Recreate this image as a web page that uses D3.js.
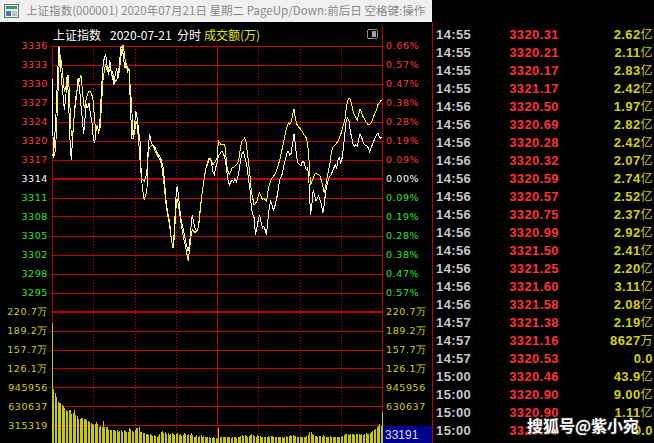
<!DOCTYPE html>
<html><head><meta charset="utf-8">
<script src="https://cdn.jsdelivr.net/npm/d3@7/dist/d3.min.js"></script>
<style>html,body{margin:0;padding:0;background:#000;overflow:hidden}</style>
</head><body><svg id="c" width="654" height="443"></svg>
<script>
// ---------- data ----------
const titleText = "上证指数(000001) 2020年07月21日 星期二 PageUp/Down:前后日 空格键:操作";
const prevClose = 3314.15;
const priceLabels = ["3336","3333","3330","3327","3324","3320","3317","3314","3311","3308","3305","3302","3298","3295"];
const pctLabels = ["0.66%","0.57%","0.47%","0.38%","0.28%","0.19%","0.09%","0.00%","0.09%","0.19%","0.28%","0.38%","0.47%","0.57%"];
const volLabels = ["220.7万","189.2万","157.7万","126.1万","945956","630637","315319"];
const volStep = 315319; // 万 per grid division

// index line (white), one value per minute 09:30..15:00
const indexLine = [
3330.7,3317.6,3321.0,3325.2,3330.7,3336.0,3333.4,3330.1,3327.9,3325.5,
3327.4,3331.2,3327.4,3320.8,3317.2,3320.8,3324.1,3326.3,3327.9,3330.7,
3329.0,3326.3,3324.1,3321.4,3324.1,3326.3,3325.8,3326.6,3324.6,3323.6,
3320.8,3320.0,3321.9,3323.0,3321.4,3324.1,3329.0,3332.3,3334.0,3334.5,
3332.9,3331.2,3333.7,3331.8,3330.7,3329.6,3331.2,3332.3,3330.7,3332.9,
3335.6,3336.0,3334.0,3332.3,3332.9,3331.8,3332.3,3326.3,3320.8,3320.8,
3322.9,3325.2,3324.1,3322.0,3320.3,3314.2,3313.9,3313.7,3314.2,3315.3,
3319.2,3321.4,3320.3,3319.7,3319.5,3319.2,3318.7,3318.1,3317.9,3317.5,
3316.7,3315.9,3313.1,3310.4,3308.6,3307.7,3306.0,3303.8,3302.7,3305.7,
3310.6,3312.9,3311.4,3309.0,3307.2,3306.3,3305.2,3304.0,3303.1,3302.2,
3303.1,3306.0,3308.2,3307.0,3306.0,3305.5,3305.7,3307.3,3309.6,3311.4,
3313.1,3314.6,3315.9,3316.4,3317.2,3317.5,3316.7,3315.3,3314.8,3315.9,
3316.7,
3317.9,3318.1,3318.5,3318.6,3318.0,3317.2,3315.6,3313.9,3313.1,3313.6,
3313.9,3313.6,3314.1,3313.6,3314.2,3315.3,3316.9,3318.2,3318.6,3318.0,
3316.9,3315.9,3313.9,3312.3,3309.3,3308.2,3307.7,3304.9,3306.0,3307.3,
3308.2,3307.0,3306.0,3306.3,3305.7,3304.9,3307.3,3309.3,3310.4,3309.8,
3309.0,3309.5,3310.6,3311.5,3313.1,3314.2,3314.5,3315.6,3316.7,3317.5,
3318.5,3318.6,3318.0,3318.3,3320.0,3321.4,3319.7,3317.5,3316.7,3316.4,
3316.2,3316.9,3317.0,3316.2,3315.6,3315.9,3313.1,3308.2,3309.8,3312.3,
3311.3,3310.4,3310.9,3311.3,3310.6,3309.8,3308.5,3309.8,3312.0,3313.1,
3313.9,3314.5,3314.8,3315.3,3315.9,3316.4,3315.9,3317.2,3317.5,3316.7,
3317.5,3319.2,3321.6,3323.8,3324.1,3323.6,3321.9,3320.8,3319.7,3319.5,
3319.7,3319.5,3320.5,3321.4,3321.1,3320.3,3319.8,3319.5,3319.5,3319.2,
3318.6,3319.2,3319.7,3320.3,3320.8,3321.4,3321.6,3321.0,3320.8,3320.9
];
// leading line (yellow)
const leadLine = [
3317.9,3318.3,3317.9,3320.8,3326.3,3332.3,3334.5,3332.9,3330.7,3328.5,
3329.0,3330.7,3331.0,3326.3,3321.4,3321.1,3324.1,3326.9,3328.5,3329.5,
3330.4,3331.2,3329.0,3326.3,3325.8,3327.4,3328.2,3328.5,3328.4,3327.9,
3326.9,3323.6,3321.9,3322.7,3321.9,3322.5,3326.3,3330.1,3331.8,3332.9,
3332.0,3332.3,3331.8,3332.0,3331.8,3330.4,3330.1,3330.4,3330.7,3331.8,
3334.0,3335.6,3335.9,3334.0,3332.3,3332.6,3331.8,3329.0,3325.8,3320.8,
3321.6,3323.6,3323.0,3320.3,3317.2,3314.2,3312.3,3310.7,3311.4,3312.0,
3318.8,3319.2,3319.5,3319.7,3319.3,3318.6,3318.3,3317.8,3317.5,3317.0,
3315.9,3314.2,3312.0,3309.8,3308.2,3307.2,3305.5,3303.8,3302.7,3304.6,
3309.0,3310.9,3309.8,3308.2,3306.6,3305.2,3304.0,3303.1,3301.9,3300.6,
3302.4,3304.6,3305.7,3305.5,3305.2,3305.5,3305.7,3307.0,3309.3,3311.4,
3313.1,3314.6,3315.9,3316.7,3317.5,3317.5,3317.0,3316.4,3316.7,3317.0,
3317.5,
3320.3,3320.0,3319.7,3319.7,3319.8,3319.2,3316.4,3315.3,3314.8,3315.3,
3315.9,3315.9,3316.2,3316.4,3316.7,3317.5,3319.2,3320.3,3320.5,3320.8,
3320.3,3318.6,3316.7,3314.5,3312.0,3310.9,3309.8,3310.1,3310.4,3311.3,
3311.8,3311.3,3310.7,3310.9,3310.7,3310.4,3312.0,3313.1,3313.7,3314.2,
3314.5,3314.8,3315.3,3315.9,3316.7,3317.5,3318.6,3319.7,3320.8,3321.9,
3322.7,3323.3,3323.0,3323.6,3324.6,3325.6,3324.1,3323.1,3322.7,3322.5,
3322.2,3321.9,3321.4,3321.1,3320.8,3319.7,3317.0,3313.1,3313.7,3314.2,
3314.8,3315.1,3314.8,3314.8,3314.5,3313.7,3312.9,3311.8,3312.9,3314.2,
3315.3,3316.4,3318.1,3319.2,3319.5,3319.7,3320.0,3320.3,3320.8,3321.4,
3322.2,3323.0,3323.8,3325.8,3326.9,3327.4,3327.1,3326.3,3325.2,3324.6,
3324.1,3323.8,3324.6,3325.5,3325.2,3324.4,3324.1,3323.6,3323.3,3323.0,
3323.0,3323.3,3323.8,3324.4,3324.9,3325.5,3326.3,3326.6,3326.9,3327.1
];
// per-minute turnover, thousands of 万
const turnover = [
2013,912,850,789,700,689,679,650,634,600,
567,550,560,567,500,520,567,484,470,412,
420,429,440,420,412,395,380,362,350,334,
317,340,362,330,289,300,289,384,289,280,
289,240,234,234,240,234,220,234,205,220,
234,205,240,220,200,205,262,250,210,200,
230,262,270,280,200,205,190,183,175,160,
150,160,150,140,150,130,122,140,160,200,
210,180,200,170,183,150,160,183,170,150,
160,183,150,160,140,150,183,170,150,160,
150,183,150,122,122,150,122,130,150,122,
140,122,120,122,110,100,100,110,100,100,
80,
272,120,110,110,122,120,110,122,110,105,
110,115,110,100,110,120,130,150,140,145,
130,122,140,150,160,150,140,122,150,140,
130,122,122,110,110,122,130,122,140,130,
122,110,110,120,110,115,110,100,120,130,
122,140,150,140,150,140,130,122,122,110,
120,110,120,122,130,150,200,205,160,150,
140,130,122,140,130,122,150,130,122,120,
122,130,122,120,110,122,120,110,122,120,
130,150,160,170,160,150,160,170,160,150,
160,170,160,150,160,150,170,180,160,170,
180,200,210,230,250,280,300,330,300,540
];
// tick list on the right
const tickTimes = ["14:55","14:55","14:55","14:55","14:56","14:56","14:56","14:56","14:56","14:56","14:56","14:56","14:56","14:56","14:56","14:56","14:57","14:57","14:57","15:00","15:00","15:00","15:00"];
const tickPrices = ["3320.31","3320.21","3320.17","3321.17","3320.50","3320.69","3320.28","3320.32","3320.59","3320.57","3320.75","3320.99","3321.50","3321.25","3321.60","3321.58","3321.38","3321.16","3320.53","3320.46","3320.90","3320.90","3320.90"];
const tickAmounts = ["2.62","2.11","2.83","2.42","1.97","2.82","2.42","2.07","2.74","2.52","2.37","2.92","2.41","2.20","3.11","2.08","2.19","8627","0.0","43.9","9.00","1.11","9.0"];
const tickUnits = ["亿","亿","亿","亿","亿","亿","亿","亿","亿","亿","亿","亿","亿","亿","亿","亿","亿","万","","亿","亿","亿",""];
const cursorVolume = "33191";

// ---------- drawing ----------
const svg = d3.select("#c");
const RED = "#b80000", LRED = "#ff3c3c", GREEN = "#2ee62e", YEL = "#d2d200";
const numFont = "'DejaVu Sans', sans-serif";
const cjk = "'Noto Sans CJK SC', sans-serif";

svg.append("rect").attr("width",654).attr("height",443).attr("fill","#000");

// title bar
svg.append("rect").attr("x",0).attr("y",0).attr("width",432).attr("height",22).attr("fill","#f0f0f0");
const ic = svg.append("g").attr("transform","translate(4,4)").attr("shape-rendering","crispEdges");
ic.append("rect").attr("x",0.5).attr("y",0.5).attr("width",14).attr("height",13).attr("fill","#e8efe8").attr("stroke","#5d7d6a");
ic.append("rect").attr("x",2).attr("y",2).attr("width",11).attr("height",3).attr("fill","#3c9a5a");
ic.append("rect").attr("x",2).attr("y",7).attr("width",5).attr("height",5).attr("fill","#4a74b8");
ic.append("rect").attr("x",8).attr("y",7).attr("width",5).attr("height",5).attr("fill","#b5c7b5");
const tt = svg.append("text").attr("x",26).attr("y",15).attr("font-family",cjk).attr("font-size",12)
  .attr("fill","#8a8a8a").text(titleText);
const tw = tt.node().getComputedTextLength();
tt.attr("font-size", 12*400/tw);

// scales
const step = prevClose*0.0066/7;
const x = d3.scaleLinear().domain([0,240]).range([52,382]);
const y = d3.scaleLinear().domain([prevClose-6*step, prevClose+7*step]).range([292.5,45.5]);
const yv = d3.scaleLinear().domain([0, 7*volStep/1000]).range([444,311.7]);

const grid = svg.append("g").attr("shape-rendering","crispEdges");
priceLabels.forEach((lab,i)=>{
  const k = 7-i;
  const yy = Math.round(y(prevClose+k*step));
  grid.append("line").attr("x1",52).attr("x2",382)
    .attr("y1", k===0? yy : yy+0.5).attr("y2", k===0? yy : yy+0.5)
    .attr("stroke",RED).attr("stroke-width",k===0?2:1);
});
volLabels.forEach((lab,i)=>{
  const k = 7-i;
  const yy = Math.round(yv(k*volStep/1000));
  grid.append("line").attr("x1",52).attr("x2",382)
    .attr("y1", k===7? yy : yy+0.5).attr("y2", k===7? yy : yy+0.5)
    .attr("stroke",RED).attr("stroke-width",k===7?2:1);
});
[30,60,90,150,180,210].forEach(m=>{
  const xx = Math.round(x(m))+0.5;
  grid.append("line").attr("x1",xx).attr("x2",xx).attr("y1",46).attr("y2",443)
    .attr("stroke","#e00000").attr("stroke-dasharray","1,2");
});
[[0,45],[120,45],[240,26]].forEach(([m,top])=>{
  const xx = Math.round(x(m))+0.5;
  grid.append("line").attr("x1",xx).attr("x2",xx).attr("y1",top).attr("y2",443)
    .attr("stroke",RED).attr("stroke-width",1);
});
grid.append("line").attr("x1",432.5).attr("x2",432.5).attr("y1",22).attr("y2",443).attr("stroke",RED);

// header
const hdr = svg.append("g").attr("font-family",cjk).attr("font-size",12);
hdr.append("text").attr("x",53).attr("y",40).attr("fill","#fff").text("上证指数");
hdr.append("text").attr("x",110).attr("y",40).attr("fill","#fff").text("2020-07-21");
hdr.append("text").attr("x",177).attr("y",40).attr("fill","#fff").text("分时");
hdr.append("text").attr("x",204).attr("y",40).attr("fill","#e6e600").text("成交额(万)");
svg.append("rect").attr("x",367.5).attr("y",29.5).attr("width",10).attr("height",9).attr("rx",2)
  .attr("fill","none").attr("stroke","#8c8c8c").attr("shape-rendering","crispEdges");
svg.append("rect").attr("x",372).attr("y",31).attr("width",4).attr("height",6).attr("fill","#a0a0a0");

// axis labels
const lab = svg.append("g").attr("font-family",numFont).attr("font-size",9.5).attr("letter-spacing",0.6);
priceLabels.forEach((t,i)=>{
  const k = 7-i;
  const yy = y(prevClose+k*step)+3.6;
  const col = k>0?LRED:(k===0?"#ffffff":GREEN);
  lab.append("text").attr("x",48).attr("y",yy).attr("text-anchor","end").attr("fill",col).text(t);
  lab.append("text").attr("x",386).attr("y",yy).attr("fill",col).text(pctLabels[i]);
});
volLabels.forEach((t,i)=>{
  const k = 7-i;
  const yy = yv(k*volStep/1000)+3.6;
  lab.append("text").attr("x",48).attr("y",yy).attr("text-anchor","end").attr("fill",YEL).text(t);
  if (k>1) lab.append("text").attr("x",386).attr("y",yy).attr("fill",YEL).text(t);
});
svg.append("rect").attr("x",383).attr("y",426).attr("width",49).attr("height",17).attr("fill","#00008c");
svg.append("text").attr("x",385).attr("y",438.5).attr("font-family","'Liberation Sans', sans-serif")
  .attr("font-size",12).attr("fill","#dcdcff").text(cursorVolume);

// volume bars
svg.append("g").attr("shape-rendering","crispEdges").selectAll("rect").data(turnover).join("rect")
  .attr("x",(d,i)=>Math.round(x(i)))
  .attr("width",1)
  .attr("y",d=>yv(d))
  .attr("height",d=>444-yv(d))
  .attr("fill","#c8c800");

// price lines
const line = d3.line().x((d,i)=>x(i)).y(d=>y(d));
svg.append("path").datum(indexLine).attr("d",line).attr("fill","none").attr("stroke","#ffffff").attr("stroke-width",1).attr("shape-rendering","crispEdges");
svg.append("path").datum(leadLine).attr("d",line).attr("fill","none").attr("stroke","#ffff00").attr("stroke-width",1).attr("shape-rendering","crispEdges");

// tick table
const tb = svg.append("g").attr("font-family","'Liberation Sans', sans-serif").attr("font-size",13).attr("font-weight","bold").attr("letter-spacing",0.4);
tickTimes.forEach((t,i)=>{
  const yy = 34 + 18*i + 4.6;
  tb.append("text").attr("x",436).attr("y",yy).attr("fill","#c8c8c8").text(t);
  tb.append("text").attr("x",559).attr("y",yy).attr("text-anchor","end").attr("fill","#ff3232").text(tickPrices[i]);
  const a = tb.append("text").attr("x",653).attr("y",yy).attr("text-anchor","end").attr("fill",YEL);
  a.append("tspan").text(tickAmounts[i]);
  if (tickUnits[i]) a.append("tspan").attr("font-family",cjk).attr("font-weight","normal").attr("font-size",12).text(tickUnits[i]);
});

// watermark
svg.append("text").attr("x",527).attr("y",432).attr("font-family",cjk).attr("font-size",16).attr("font-weight","bold")
  .attr("fill","#ffffff").attr("stroke","rgba(40,40,40,0.7)").attr("stroke-width",2).attr("paint-order","stroke")
  .text("搜狐号@紫小宛");
</script></body></html>
